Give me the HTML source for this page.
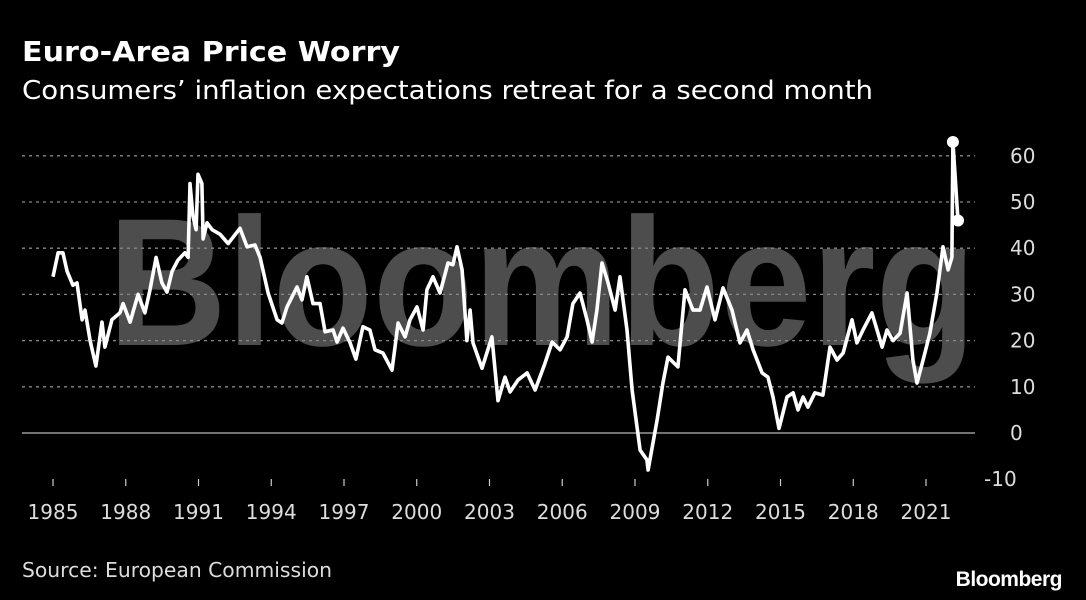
<!DOCTYPE html>
<html><head><meta charset="utf-8"><style>
html,body{margin:0;padding:0;background:#000;}
body{width:1086px;height:600px;overflow:hidden;font-family:"Liberation Sans",Arial,sans-serif;color:#fff;}
</style></head><body>
<svg id="chart" width="1086" height="600" xmlns="http://www.w3.org/2000/svg" style="position:absolute;left:0;top:0">
<text x="22" y="61" font-size="28" font-weight="bold" fill="#fff" textLength="378" lengthAdjust="spacingAndGlyphs" font-family="DejaVu Sans, sans-serif">Euro-Area Price Worry</text>
<text x="22" y="99" font-size="26" fill="#fff" textLength="851" lengthAdjust="spacingAndGlyphs" font-family="DejaVu Sans, sans-serif">Consumers’ inflation expectations retreat for a second month</text>
<text x="108" y="345" font-size="182" font-weight="bold" fill="#4d4d4d" textLength="868" lengthAdjust="spacingAndGlyphs" font-family="Liberation Sans, sans-serif">Bloomberg</text>
<g id="grid"></g><g id="xaxis"></g><g id="series"></g>
<text x="22" y="577" font-size="20" fill="#ddd" textLength="310" lengthAdjust="spacingAndGlyphs" font-family="DejaVu Sans, sans-serif">Source: European Commission</text>
<text x="1062" y="586" text-anchor="end" font-size="21" font-weight="bold" fill="#fff" font-family="Liberation Sans, sans-serif" letter-spacing="-0.5">Bloomberg</text>
</svg>
<script>
const yTicks=[-10,0,10,20,30,40,50,60];
const xTickYears=[1985,1988,1991,1994,1997,2000,2003,2006,2009,2012,2015,2018,2021];
const yearOffsets=[0,.21,.41,.58,.82,.99,1.2,1.32,1.53,1.77,2.02,2.14,2.43,2.76,2.89,3.18,3.51,3.79,4.0,4.25,4.49,4.7,4.91,5.15,5.44,5.57,5.65,5.77,5.9,5.98,6.14,6.19,6.35,6.56,6.89,7.22,7.71,8.0,8.33,8.54,8.87,9.24,9.44,9.65,10.06,10.27,10.47,10.72,11.01,11.22,11.55,11.71,11.96,12.25,12.49,12.78,13.07,13.28,13.61,13.98,14.23,14.52,14.72,15.01,15.26,15.42,15.67,15.96,16.29,16.49,16.66,16.87,17.07,17.2,17.32,17.69,18.1,18.35,18.64,18.85,19.18,19.55,19.88,20.29,20.58,20.91,21.2,21.44,21.73,22.02,22.23,22.43,22.64,22.89,23.18,23.38,23.67,23.88,24.21,24.49,24.54,24.91,25.15,25.36,25.77,26.06,26.39,26.68,26.97,27.3,27.63,28.0,28.33,28.62,28.87,29.24,29.48,29.69,29.94,30.27,30.52,30.72,30.93,31.13,31.42,31.75,32.04,32.33,32.58,32.95,33.15,33.4,33.77,34.02,34.19,34.39,34.64,34.93,35.22,35.46,35.63,35.88,36.16,36.45,36.7,36.91,37.07,37.11,37.32];
const values=[33.8,39,39,35,32,32.5,24.5,26.6,20,14.5,24,18.6,24.5,26,28,24,30,26,31,38,32.5,30.5,35,37.4,39,38,54,47,44,56,54,42,45.5,44,43,41,44.3,40.3,40.7,38,30.3,24.5,23.8,27.3,31.6,28.8,33.8,28,28,21.9,22.3,19.7,22.7,19.5,16,23,22.3,18,17.3,13.6,23.8,20.8,24.5,27.3,22.3,31,33.8,30.3,36.8,36.4,40.3,35.3,20,26.6,19.5,14,20.8,7,12.1,8.9,11.5,13,9.3,15.1,19.7,18,20.8,28,30.3,24.5,19.7,26.6,36.8,32.5,26.6,33.8,22.3,9.3,-3.7,-5.8,-8,2.8,10.8,16.4,14.3,31,26.6,26.6,31.6,24.5,31.4,26.6,19.5,22.3,18,13,12.1,7.8,1,7.8,8.7,5,7.8,5.6,8.7,8.2,18.6,15.8,17.3,24.5,19.5,22.3,26,21.6,18.6,22.3,20,21.6,30.3,15.8,10.8,15.8,21.6,30.3,40.3,35.3,38,63,46];
const NS="http://www.w3.org/2000/svg";
const X0=22,X1=975;
function xs(yr){return 53+(yr-1985)*24.25;}
function ys(v){return 433-v*4.62;}
const grid=document.getElementById('grid');
yTicks.forEach(t=>{
  const l=document.createElementNS(NS,'line');
  
  
  l.setAttribute('x1',X0);l.setAttribute('x2',X1);l.setAttribute('y1',ys(t));l.setAttribute('y2',ys(t));
  l.setAttribute('stroke',t===0?'#999':'#888');l.setAttribute('stroke-width',t===0?1.5:1.3);
  if(t!==0)l.setAttribute('stroke-dasharray','3,4');
  if(t!==-10)grid.appendChild(l);
  const tx=document.createElementNS(NS,'text');
  
  
  tx.setAttribute('x',t<0?984:1010);tx.setAttribute('y',ys(t)+7);tx.setAttribute('font-size','20');
  tx.setAttribute('fill','#ddd');tx.setAttribute('font-family','DejaVu Sans, sans-serif');
  tx.textContent=t<0?'-'+Math.abs(t):t;
  grid.appendChild(tx);
});
const xa=document.getElementById('xaxis');
xTickYears.forEach(y=>{
  const l=document.createElementNS(NS,'line');
  
  
  l.setAttribute('x1',xs(y));l.setAttribute('x2',xs(y));l.setAttribute('y1',479);l.setAttribute('y2',486);
  l.setAttribute('stroke','#ccc');l.setAttribute('stroke-width',1.2);
  xa.appendChild(l);
  const tx=document.createElementNS(NS,'text');
  
  
  tx.setAttribute('x',xs(y));tx.setAttribute('y',519);tx.setAttribute('text-anchor','middle');
  tx.setAttribute('font-size','20');tx.setAttribute('fill','#ddd');tx.setAttribute('font-family','DejaVu Sans, sans-serif');
  tx.textContent=y;
  xa.appendChild(tx);
});
const sg=document.getElementById('series');
const d=values.map((v,i)=>(i?'L':'M')+xs(1985+yearOffsets[i]).toFixed(1)+','+ys(v).toFixed(1)).join('');
const p=document.createElementNS(NS,'path');


p.setAttribute('d',d);p.setAttribute('fill','none');p.setAttribute('stroke','#fff');
p.setAttribute('stroke-width','3.6');p.setAttribute('stroke-linejoin','round');
sg.appendChild(p);
const n=values.length;
[n-2,n-1].forEach((i,k)=>{
  const c=document.createElementNS(NS,'circle');
  
  
  c.setAttribute('cx',xs(1985+yearOffsets[i]));c.setAttribute('cy',ys(values[i]));c.setAttribute('r','6');c.setAttribute('fill','#fff');
  sg.appendChild(c);
});
</script>
</body></html>
